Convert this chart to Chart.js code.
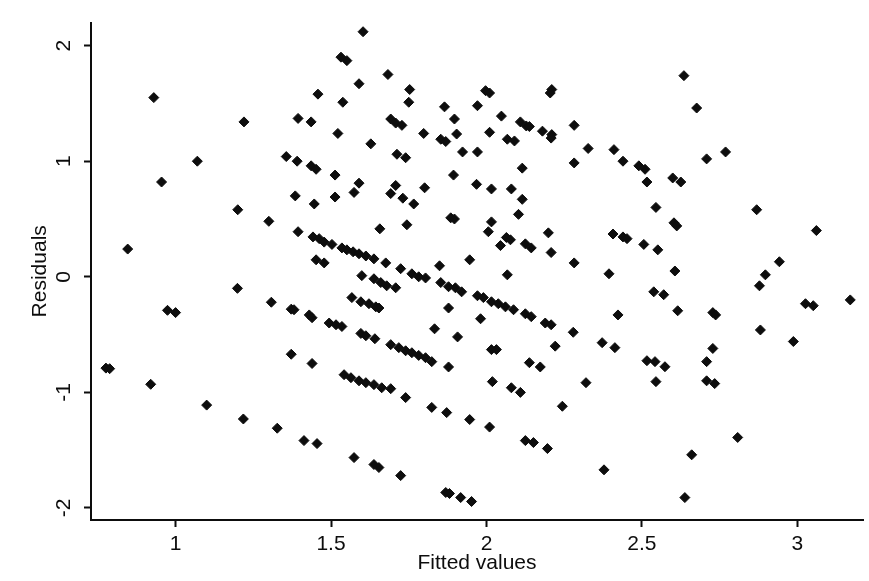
<!DOCTYPE html>
<html>
<head>
<meta charset="utf-8">
<script src="https://cdn.jsdelivr.net/npm/chart.js@4.4.1/dist/chart.umd.min.js"></script>
<style>
  html, body { margin: 0; padding: 0; background: #fff; }
  #wrap { width: 869px; height: 581px; }
</style>
</head>
<body>
<div id="wrap"><canvas id="residualChart" width="869" height="581"></canvas></div>
<script>
// fitted values (x) and residuals (y), same order
const fitted = [
  0.93, 1.22, 1.07, 0.955, 1.20, 1.30, 1.394, 0.846, 1.199, 1.308,
  1.372, 1.381, 0.974, 1.00, 1.372, 0.776, 0.788, 0.92, 1.10, 1.218, 1.327,
  1.603, 1.532, 1.551, 1.683, 1.59, 1.753, 1.458, 1.538, 1.75,
  1.997, 2.01, 2.21, 2.205, 1.865, 1.971, 1.394, 1.436, 1.522, 1.692,
  1.708, 1.728, 1.897, 2.048, 1.798, 1.904, 2.01, 2.109, 2.128, 2.138,
  2.18, 2.21, 2.208, 2.282, 1.628, 1.853, 1.869, 2.067, 2.09, 1.356,
  1.391, 1.436, 1.452, 1.712, 1.74, 1.923, 1.971, 2.282, 2.115, 1.513,
  1.894, 1.59, 1.708, 1.968, 2.016, 2.08, 1.385, 1.513, 1.574, 1.692,
  1.731, 1.801, 2.115,
  2.635, 2.676, 2.327, 2.41, 2.439, 2.49, 2.51, 2.516, 2.599, 2.625, 2.708, 2.769,
  1.446, 1.766, 1.885, 1.897, 2.103, 2.016, 2.006, 2.199, 1.657, 1.744,
  2.064, 2.077, 2.045, 2.125, 2.144, 2.208, 2.282,
  1.442, 1.462, 1.478, 1.503, 1.535, 1.551, 1.571, 1.59, 1.612, 1.638,
  1.676, 1.724, 1.76, 1.782, 1.804, 1.849, 1.946, 2.067,
  1.853, 1.878, 1.90, 1.92, 1.971, 1.99, 2.016, 2.038, 2.061, 2.087,
  2.125, 2.144, 2.189, 2.208, 2.279, 2.221,
  1.452, 1.478, 1.599, 1.638, 1.66, 1.679, 1.708, 1.567, 1.596, 1.622,
  1.644, 1.654, 1.43, 1.439, 1.494, 1.516, 1.535, 1.596, 1.612, 1.641,
  1.692, 1.718, 1.74, 1.76, 1.782, 1.804, 1.824,
  1.878, 1.981, 1.833, 1.907, 1.878, 2.016, 2.032, 2.138, 2.173, 1.439,
  1.542, 1.564, 1.59, 1.612, 1.638, 1.663, 1.692, 2.019, 2.08,
  2.545, 2.869, 2.603, 2.612, 3.061, 2.407, 2.439, 2.452, 2.506, 2.551,
  2.942, 2.394, 2.606, 2.897, 2.878, 2.538, 2.57, 3.026, 3.051, 3.17,
  2.423, 2.615, 2.728, 2.737, 2.881, 2.987, 2.372, 2.413, 2.516, 2.542,
  2.574, 2.728, 2.708, 2.32, 2.545, 2.708, 2.734,
  1.74, 2.109, 2.244, 1.824, 1.872, 1.946, 2.01, 2.125, 2.151, 2.196,
  1.413, 1.455, 1.574, 1.638, 1.654, 1.724, 1.869, 1.881, 1.917, 1.952,
  2.808, 2.66, 2.378, 2.638
];
const residuals = [
  1.55, 1.34, 1.00, 0.82, 0.58, 0.48, 0.39, 0.24, -0.10, -0.22,
  -0.28, -0.285, -0.29, -0.31, -0.67, -0.79, -0.795, -0.93, -1.11, -1.23, -1.31,
  2.12, 1.90, 1.87, 1.75, 1.67, 1.62, 1.58, 1.51, 1.51,
  1.61, 1.59, 1.62, 1.59, 1.47, 1.48, 1.37, 1.34, 1.24, 1.365,
  1.33, 1.31, 1.365, 1.39, 1.24, 1.235, 1.25, 1.34, 1.305, 1.30,
  1.26, 1.23, 1.20, 1.31, 1.15, 1.19, 1.17, 1.19, 1.175, 1.04,
  1.00, 0.96, 0.93, 1.06, 1.03, 1.08, 1.08, 0.985, 0.94, 0.88,
  0.88, 0.81, 0.79, 0.80, 0.76, 0.76, 0.70, 0.69, 0.73, 0.72,
  0.68, 0.77, 0.67,
  1.74, 1.46, 1.11, 1.10, 1.00, 0.96, 0.93, 0.82, 0.855, 0.82, 1.02, 1.08,
  0.63, 0.63, 0.51, 0.50, 0.54, 0.475, 0.39, 0.38, 0.415, 0.45,
  0.34, 0.32, 0.27, 0.285, 0.25, 0.21, 0.12,
  0.345, 0.33, 0.30, 0.28, 0.25, 0.233, 0.216, 0.199, 0.18, 0.155,
  0.12, 0.07, 0.026, 0.0, -0.01, 0.095, 0.147, 0.017,
  -0.05, -0.086, -0.095, -0.13, -0.164, -0.18, -0.216, -0.233, -0.26, -0.285,
  -0.32, -0.345, -0.40, -0.415, -0.48, -0.60,
  0.147, 0.12, 0.01, -0.017, -0.05, -0.078, -0.095, -0.18, -0.216, -0.233,
  -0.26, -0.27, -0.33, -0.354, -0.40, -0.415, -0.43, -0.49, -0.51, -0.536,
  -0.587, -0.613, -0.64, -0.657, -0.68, -0.70, -0.734,
  -0.27, -0.363, -0.45, -0.52, -0.78, -0.63, -0.63, -0.743, -0.78, -0.75,
  -0.847, -0.873, -0.90, -0.916, -0.933, -0.96, -0.968, -0.907, -0.96,
  0.60, 0.58, 0.467, 0.44, 0.40, 0.37, 0.345, 0.33, 0.28, 0.233,
  0.13, 0.026, 0.05, 0.017, -0.078, -0.13, -0.155, -0.233, -0.25, -0.20,
  -0.33, -0.294, -0.31, -0.33, -0.46, -0.56, -0.57, -0.613, -0.726, -0.734,
  -0.778, -0.62, -0.734, -0.916, -0.907, -0.90, -0.924,
  -1.045, -1.00, -1.12, -1.13, -1.175, -1.235, -1.30, -1.417, -1.434, -1.486,
  -1.417, -1.443, -1.564, -1.624, -1.65, -1.72, -1.866, -1.875, -1.91, -1.944,
  -1.39, -1.54, -1.67, -1.91
];
const xTicks = [1, 1.5, 2, 2.5, 3];
const yTicks = [-2, -1, 0, 1, 2];
const xTitle = 'Fitted values';
const yTitle = 'Residuals';

document.addEventListener('DOMContentLoaded', function() {
  const canvas = document.getElementById('residualChart');
  if (!canvas || typeof Chart === 'undefined') return;

  const font = { family: "'Liberation Sans', Arial, sans-serif", size: 21 };
  const ink = '#0d0d0d';

  const points = fitted.map((x, i) => ({ x: x, y: residuals[i] }));

  new Chart(canvas.getContext('2d'), {
    type: 'scatter',
    data: {
      datasets: [{
        data: points,
        pointStyle: 'rectRot',
        pointRadius: 5,
        pointBorderWidth: 1,
        backgroundColor: ink,
        borderColor: ink
      }]
    },
    options: {
      responsive: false,
      animation: false,
      layout: { padding: { top: 22, right: 3, left: 0, bottom: 0 } },
      plugins: {
        legend: { display: false },
        tooltip: { enabled: false }
      },
      scales: {
        x: {
          type: 'linear',
          position: 'bottom',
          min: 0.728,
          max: 3.211,
          afterBuildTicks: s => { s.ticks = xTicks.map(v => ({ value: v })); },
          afterFit: s => { s.height = 61; },
          ticks: {
            font: font,
            color: ink,
            padding: 5,
            maxRotation: 0,
            autoSkip: false,
            callback: v => String(v)
          },
          grid: {
            display: true,
            drawOnChartArea: false,
            drawTicks: true,
            tickLength: 7,
            tickWidth: 2,
            tickColor: ink
          },
          border: { display: true, color: ink, width: 2 },
          title: {
            display: true,
            text: xTitle,
            font: font,
            color: ink,
            padding: { top: 0, bottom: 5 }
          }
        },
        y: {
          type: 'linear',
          min: -2.104,
          max: 2.199,
          afterBuildTicks: s => { s.ticks = yTicks.map(v => ({ value: v })); },
          afterFit: s => { s.width = 91; },
          ticks: {
            font: font,
            color: ink,
            padding: 10,
            minRotation: 90,
            maxRotation: 90,
            crossAlign: 'center',
            autoSkip: false,
            callback: v => String(v)
          },
          grid: {
            display: true,
            drawOnChartArea: false,
            drawTicks: true,
            tickLength: 7,
            tickWidth: 2,
            tickColor: ink
          },
          border: { display: true, color: ink, width: 2 },
          title: {
            display: true,
            text: yTitle,
            font: font,
            color: ink,
            padding: { top: 28, bottom: 0 }
          }
        }
      }
    }
  });
});
</script>
</body>
</html>
